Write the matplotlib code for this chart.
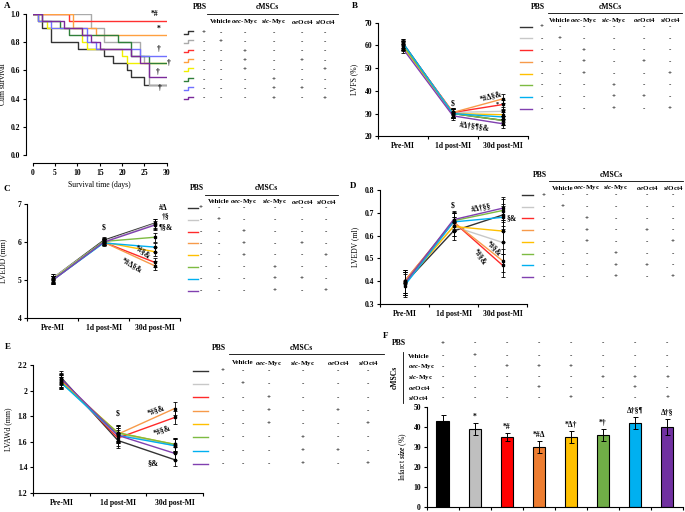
import matplotlib
matplotlib.use('Agg')
import matplotlib.pyplot as plt
import numpy as np

plt.rcParams['font.family'] = ['Liberation Serif', 'DejaVu Serif']
plt.rcParams['font.weight'] = 'bold'
plt.rcParams['mathtext.fontset'] = 'custom'
plt.rcParams['mathtext.rm'] = 'Liberation Serif:bold'
plt.rcParams['mathtext.it'] = 'Liberation Serif:italic:bold'
plt.rcParams['mathtext.bf'] = 'Liberation Serif:bold'
plt.rcParams['axes.linewidth'] = 0.8

# ---------------- data ----------------
groups = ['PBS', 'Vehicle', 'oec-Myc', 'oec-Myc+oeOct4', 'oec-Myc+siOct4',
          'sic-Myc', 'sic-Myc+oeOct4', 'sic-Myc+siOct4']
line_colors = ['#333333', '#c8c8c8', '#ff2a2a', '#f79a4a', '#ffc000', '#7dbb42', '#00b0f0', '#8040b0']
km_colors = ['#333333', '#aaaaaa', '#ff3030', '#ffa040', '#f0f000', '#2f7f3a', '#7070ff', '#7b2a9a']
bar_colors = ['#000000', '#bfbfbf', '#ff0000', '#ed7d31', '#ffc000', '#70ad47', '#00b0f0', '#7030a0']

# Kaplan-Meier: event days and survival after each event
km_days = [
    [1.1, 2.1, 4.1, 10.1, 16.0, 18.0, 21.0, 22.0, 25.0],
    [13.1, 16.0, 24.0, 25.0, 26.0],
    [8.1],
    [9.1, 14.1],
    [1.1, 3.1, 11.1, 12.1, 20.0, 21.0],
    [2.1, 6.1, 8.1, 19.0, 22.0, 26.0],
    [1.1, 4.1, 12.1, 14.1, 24.0],
    [2.1, 7.1, 11.1, 13.1, 15.1, 22.0, 24.0, 26.0],
]
km_surv = [
    [0.95, 0.90, 0.80, 0.75, 0.70, 0.65, 0.60, 0.55, 0.50],
    [0.90, 0.80, 0.70, 0.65, 0.50],
    [0.95],
    [0.90, 0.85],
    [0.95, 0.90, 0.80, 0.75, 0.70, 0.65],
    [0.95, 0.90, 0.85, 0.80, 0.70, 0.65],
    [0.95, 0.90, 0.80, 0.75, 0.70],
    [0.95, 0.90, 0.85, 0.80, 0.75, 0.70, 0.65, 0.55],
]
km_end = 30

timepoints = ['Pre-MI', '1d post-MI', '30d post-MI']

lvfs = [
    [61.0, 30.0, 27.0],
    [60.0, 30.5, 31.0],
    [60.5, 30.5, 34.0],
    [60.0, 30.5, 36.5],
    [59.5, 30.0, 29.5],
    [60.0, 30.0, 27.0],
    [61.0, 30.0, 28.5],
    [58.5, 29.0, 25.5],
]
lvfs_err = [2.0, 1.8, 2.0]

lvedd = [
    [5.05, 6.05, 6.50],
    [5.05, 6.02, 6.48],
    [5.00, 6.00, 5.47],
    [5.02, 6.00, 5.38],
    [5.02, 6.00, 5.75],
    [5.02, 6.02, 6.13],
    [5.00, 5.98, 5.87],
    [5.00, 6.00, 6.45],
]
lvedd_err = [0.1, 0.08, 0.12]

lvedv = [
    [0.39, 0.62, 0.69],
    [0.40, 0.64, 0.57],
    [0.40, 0.66, 0.47],
    [0.40, 0.66, 0.49],
    [0.39, 0.64, 0.62],
    [0.39, 0.665, 0.71],
    [0.38, 0.66, 0.68],
    [0.39, 0.67, 0.72],
]
lvedv_err = [0.05, 0.04, 0.05]

lvawd = [
    [2.10, 1.61, 1.46],
    [2.08, 1.66, 1.57],
    [2.08, 1.63, 1.79],
    [2.07, 1.66, 1.86],
    [2.07, 1.67, 1.58],
    [2.06, 1.67, 1.58],
    [2.06, 1.65, 1.57],
    [2.09, 1.65, 1.51],
]
lvawd_err = [0.05, 0.06, 0.05]

infarct = [43, 39, 35, 30, 35, 36, 42, 40]
infarct_err = [3, 3, 2, 3, 3, 3, 3, 4]
infarct_marks = ['', '*', '*#', '*#Δ', '*Δ†', '*†', 'Δ†§¶', 'Δ†§']

# treatment table (rows = groups; cols = PBS, Vehicle, oec-Myc, sic-Myc, oeOct4, siOct4)
signs = [
    ['+', '-', '-', '-', '-', '-'],
    ['-', '+', '-', '-', '-', '-'],
    ['-', '-', '+', '-', '-', '-'],
    ['-', '-', '+', '-', '+', '-'],
    ['-', '-', '+', '-', '-', '+'],
    ['-', '-', '-', '+', '-', '-'],
    ['-', '-', '-', '+', '+', '-'],
    ['-', '-', '-', '+', '-', '+'],
]
col_heads = ['Vehicle', r'$\mathit{oec}$-Myc', r'$\mathit{sic}$-Myc', r'$\mathit{oe}$Oct4', r'$\mathit{si}$Oct4']

# ---------------- figure ----------------
W, H = 685, 512
fig = plt.figure(figsize=(W / 100, H / 100), dpi=100)
FS = 5.5


def px_axes(x0, y0, x1, y1):
    return fig.add_axes([x0 / W, 1 - y1 / H, (x1 - x0) / W, (y1 - y0) / H])


def style(ax):
    for s in ['top', 'right']:
        ax.spines[s].set_visible(False)
    ax.tick_params(direction='out', length=2.5, width=0.8, labelsize=FS, pad=1.5)


def line_panel(box, vals, errs, ylim, yticks, ylabel, yfmt, ylab_pad):
    ax = px_axes(*box)
    x = np.arange(len(timepoints))
    for i, c in enumerate(line_colors):
        ax.plot(x, vals[i], color=c, lw=1.0, zorder=2)
        ax.errorbar(x, vals[i], yerr=errs, fmt='s', ms=1.5, color='black', ecolor='black',
                    elinewidth=0.6, capsize=1.5, capthick=0.6, zorder=3)
    ax.set_xlim(-0.5, 2.5)
    ax.set_ylim(*ylim)
    style(ax)
    ax.set_xticks(x)
    ax.set_xticklabels(timepoints, fontsize=FS)
    ax.tick_params(axis='x', which='major', length=0, pad=4)
    ax.set_xticks([-0.5, 0.5, 1.5, 2.5], minor=True)
    ax.tick_params(axis='x', which='minor', length=2.5, width=0.8, direction='out')
    ax.set_yticks(yticks)
    ax.set_yticklabels([yfmt.format(v) for v in yticks])
    ax.set_ylabel(ylabel, fontsize=FS, labelpad=ylab_pad)
    return ax


# Panel A: Kaplan-Meier
axA = px_axes(32.7, 14, 166.7, 155)
for i, c in enumerate(km_colors):
    t = [0] + km_days[i] + [km_end]
    s = [1.0] + km_surv[i] + [km_surv[i][-1]]
    axA.step(t, s, where='post', color=c, lw=1.0)
axA.set_xlim(0, 30)
axA.set_ylim(0, 1.0)
style(axA)
axA.spines['left'].set_position(('outward', 5))
axA.spines['bottom'].set_position(('outward', 6))
axA.set_xticks(range(0, 31, 5))
axA.set_yticks(np.arange(0, 1.01, 0.2))
axA.set_yticklabels(['{:.1f}'.format(v) for v in np.arange(0, 1.01, 0.2)])
axA.set_xlabel('Survival time (days)', fontsize=FS, labelpad=3)
axA.set_ylabel('Cum survival', fontsize=FS, labelpad=3)

# Panel B
axB = line_panel((378, 22.7, 528, 136.3), lvfs, lvfs_err, (20, 70), range(20, 71, 10),
                 'LVFS (%)', '{:d}', 5)
# Panel C
axC = line_panel((27.3, 204.3, 180, 318), lvedd, lvedd_err, (4, 7), range(4, 8),
                 'LVEDD (mm)', '{:d}', 8)
# Panel D
axD = line_panel((380, 190, 527, 304), lvedv, lvedv_err, (0.3, 0.8), np.arange(0.3, 0.81, 0.1),
                 'LVEDV (ml)', '{:.1f}', 4)
# Panel E
axE = line_panel((33, 365, 203, 493), lvawd, lvawd_err, (1.2, 2.2), np.arange(1.2, 2.21, 0.2),
                 'LVAWd (mm)', '{:.1f}', 4)
axE.set_yticklabels(['1.2', '1.4', '1.6', '1.8', '2', '2.2'])

# Panel F: bars
axF = px_axes(426.5, 407, 683.3, 507)
xb = np.arange(len(infarct))
axF.bar(xb, infarct, width=0.38, color=bar_colors, edgecolor='black', linewidth=0.8, zorder=2)
axF.errorbar(xb, infarct, yerr=infarct_err, fmt='none', ecolor='black', elinewidth=0.7,
             capsize=1.8, capthick=0.7, zorder=3)
for xi, v, e, m in zip(xb, infarct, infarct_err, infarct_marks):
    axF.text(xi, v + e + 1.0, m, ha='center', va='bottom', fontsize=FS)
axF.set_xlim(-0.5, 7.5)
axF.set_ylim(0, 50)
style(axF)
axF.set_xticks(np.arange(-0.5, 8, 1))
axF.set_xticklabels([])
axF.set_yticks(range(0, 51, 10))
axF.set_ylabel(r'Infarct $\mathit{size}$ (%)', fontsize=FS, labelpad=3)

# ---------------- overlay (pixel coords) ----------------
ov = fig.add_axes([0, 0, 1, 1])
ov.set_xlim(0, W)
ov.set_ylim(H, 0)
ov.axis('off')


def T(x, y, s, fs=FS, ha='center', va='center', rot=0, **kw):
    ov.text(x, y, s, fontsize=fs, ha=ha, va=va, rotation=rot, **kw)


# panel letters
for lab, x, y in [('A', 4, 6), ('B', 352, 6), ('C', 4, 189), ('D', 350, 186), ('E', 5, 347), ('F', 383, 336)]:
    T(x, y, lab, fs=6.5, ha='left')


def table(mk, cols, ry0, dy, pbs_y, line_y, line_x, head_y, colors, step=False):
    T(cols[0] - 4, pbs_y, 'PBS')
    T((line_x[0] + line_x[1]) / 2 - 5, pbs_y, 'cMSCs')
    ov.plot(line_x, [line_y, line_y], color='black', lw=0.6)
    for j, h in enumerate(col_heads):
        T(cols[j + 1], head_y, h, fs=5.0)
    for i, c in enumerate(colors):
        y = ry0 + i * dy
        if step:
            ov.plot([mk[0], mk[0] + 4, mk[0] + 4, mk[1]], [y + 1.2, y + 1.2, y - 1.5, y - 1.5], color=c, lw=1.0)
        else:
            ov.plot(mk, [y, y], color=c, lw=1.0)
        for j, s in enumerate(signs[i]):
            T(cols[j], y, s, fs=5.0)


table((184, 193), [204, 221, 245, 274, 302, 325], 32.3, 9.4, 7, 14, (207, 338), 21.5, km_colors, step=True)
table((520, 532), [542, 560, 584, 614, 644, 670], 26.7, 11.7, 7, 13.3, (548, 682), 20.5, line_colors)
table((188, 198), [201, 219, 244, 275, 302, 326], 208, 11.8, 188, 195, (205, 338), 201.5, line_colors)
table((522, 533), [544, 563, 587, 616, 647, 673], 195, 11.7, 175, 181, (549, 683), 188, line_colors)
table((193, 208), [223, 243, 269, 303, 338, 368], 370.7, 13.3, 348, 354, (229, 384), 363, line_colors)

# panel A annotations
for s, x, y in [('*#', 155, 14), ('*', 159, 29), ('†', 159, 49), ('†', 169, 63), ('†', 158, 72), ('†', 160, 88)]:
    T(x, y, s)

# B annotations
T(453, 103, '\\$')
T(491, 96, '*#Δ§&', rot=15)
T(497, 104, '*', fs=4.5)
T(474, 127, '#Δ†§¶§&', rot=-8)
# C annotations
T(104, 227, '\\$')
T(163, 208, '#Δ')
T(166, 217, '†§')
T(166, 227, '¶§&')
T(143, 252, '*#§&', rot=-35)
T(132, 265, '*#Δ§&', rot=-30)
# D annotations
T(453, 206, '\\$')
T(481, 208, '#Δ†§§', rot=10)
T(512, 218, '§&')
T(494, 248, '*#§&', rot=-45)
T(480, 257, '*#§&', rot=-55)
# E annotations
T(118, 413, '\\$')
T(156, 410, '*#§&', rot=20)
T(162, 430, '*#§&', rot=20)
T(153, 463, '§&', fs=6)

# F treatment table
f_cols = [442.5 + 32.1 * j for j in range(8)]
f_rows = [356, 366.5, 377, 387.5, 398]
T(392, 343, 'PBS', ha='left')
for j, x in enumerate(f_cols):
    T(x, 343, signs[j][0], fs=5.0)
T(395, 377, 'cMSCs', rot=90)
ov.plot([403, 403], [352, 403], color='black', lw=0.6)
for r, (lab, y) in enumerate(zip(col_heads, f_rows)):
    T(408, y, lab, ha='left', fs=5.0)
    for j, x in enumerate(f_cols):
        T(x, y, signs[j][r + 1], fs=5.0)

fig.savefig('out.png', dpi=100)
